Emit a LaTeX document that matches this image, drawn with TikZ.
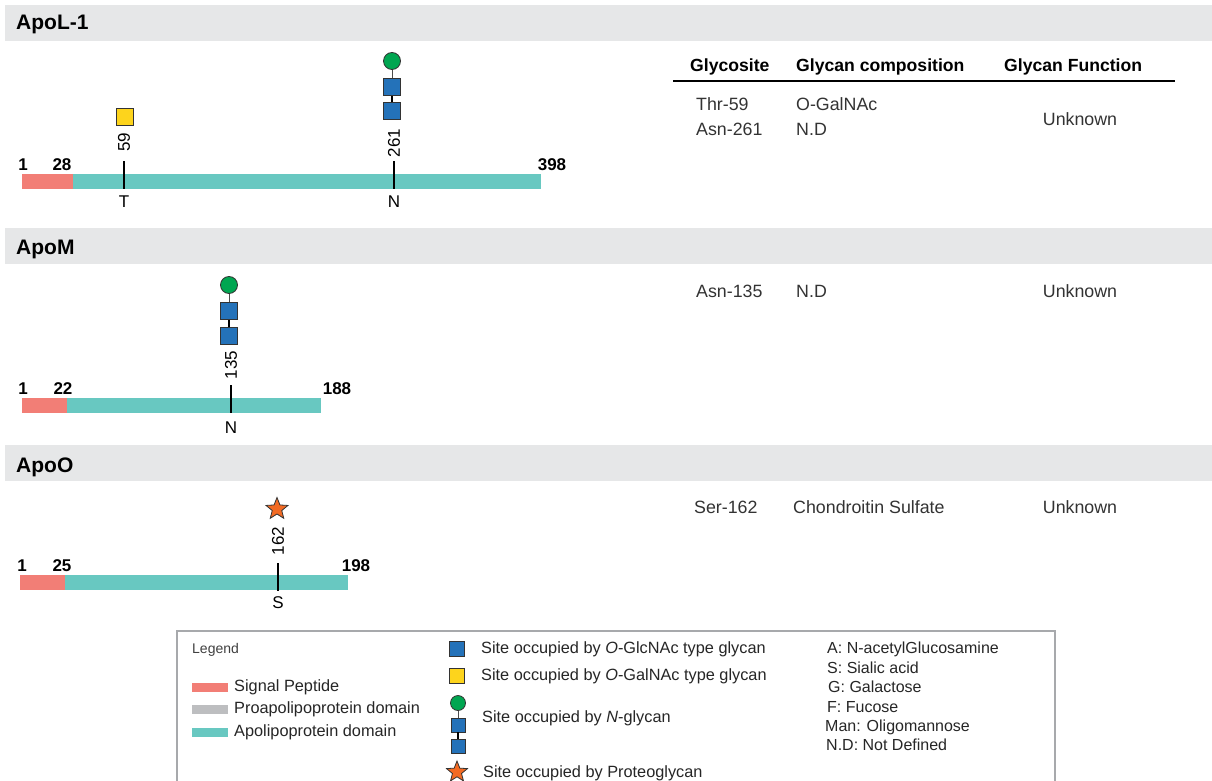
\documentclass[tikz,border=0pt]{standalone}
\usepackage{fontspec}
\setmainfont{Liberation Sans}
\usetikzlibrary{shapes.geometric}
\definecolor{bandgray}{HTML}{E6E7E8}
\definecolor{sigred}{HTML}{F27E76}
\definecolor{apoteal}{HTML}{68C8C1}
\definecolor{progray}{HTML}{BDBEC0}
\definecolor{glcblue}{HTML}{2472B9}
\definecolor{galyellow}{HTML}{FDD41C}
\definecolor{mangreen}{HTML}{00A651}
\definecolor{starorange}{HTML}{F26A23}
\definecolor{txtgray}{HTML}{333333}
\definecolor{boxgray}{HTML}{A7A9AC}
\newcommand\myfs[1]{\fontsize{#1}{#1}\selectfont}
\tikzset{
  band/.style={fill=bandgray, draw=none},
  ptitle/.style={anchor=base west, inner sep=0, font=\bfseries\myfs{21}},
  sigseg/.style={fill=sigred, draw=none},
  aposeg/.style={fill=apoteal, draw=none},
  sitetick/.style={line width=1.3pt, black},
  resnum/.style={anchor=base, inner sep=0, font=\bfseries\myfs{17}},
  poslab/.style={rotate=90, inner sep=0, font=\myfs{17}},
  aalab/.style={inner sep=0, font=\myfs{17}},
  glcsq/.style={rectangle, draw=black!80, line width=0.8pt, fill=glcblue, minimum size=16.5pt, inner sep=0},
  galsq/.style={rectangle, draw=black!80, line width=0.8pt, fill=galyellow, minimum size=17pt, inner sep=0},
  mancirc/.style={circle, draw=black!80, line width=0.8pt, fill=mangreen, minimum size=17pt, inner sep=0},
  pgstar/.style={star, star points=5, star point ratio=2.3, draw=black!80, line width=0.8pt, fill=starorange, minimum size=23pt, inner sep=0},
  thinlink/.style={draw=black!70, line width=0.8pt},
  thicklink/.style={draw=black, line width=1.6pt},
  thead/.style={anchor=base west, inner sep=0, font=\bfseries\myfs{17.6}},
  tcell/.style={anchor=west, inner sep=0, font=\myfs{17.8}, text=txtgray},
  legtext/.style={anchor=west, inner sep=0, font=\myfs{16.3}, text=black!85},
  keytext/.style={anchor=west, inner sep=0, font=\myfs{16}, text=black!85},
  swatch/.style={draw=none, minimum width=36pt, minimum height=9pt, inner sep=0},
}
\begin{document}
\begin{tikzpicture}[x=1pt,y=-1pt]
\useasboundingbox (0,0) rectangle (1212,781);
\fill[white] (0,0) rectangle (1212,781);

% ---------------- ApoL-1 ----------------
\fill[band] (5,5) rectangle (1212,41);
\node[ptitle] (t1) at (16,30) {ApoL-1};
\fill[sigseg] (22,174) rectangle (73,189);
\fill[aposeg] (73,174) rectangle (541,189);
\node[resnum] (a1s) at (23,170) {1};
\node[resnum] (a1b) at (62,170) {28};
\node[resnum] (a1e) at (552,170) {398};
\coordinate (a1t1top) at (124,161);
\coordinate (a1t1bot) at (124,189);
\draw[sitetick] (a1t1top) -- (a1t1bot);
\node[aalab] (a1aa1) at (124,202) {T};
\node[poslab] (a1p1) at (124,142) {59};
\node[galsq] (a1g1) at (125,117) {};
\coordinate (a1t2top) at (394,161);
\coordinate (a1t2bot) at (394,189);
\draw[sitetick] (a1t2top) -- (a1t2bot);
\node[aalab] (a1aa2) at (394,202) {N};
\node[poslab] (a1p2) at (394,143) {261};
\node[glcsq] (a1n1) at (392,111) {};
\node[glcsq] (a1n2) at (392,87) {};
\node[mancirc] (a1n3) at (392,61) {};
\draw[thicklink] (a1n1) -- (a1n2);
\draw[thinlink] (a1n2) -- (a1n3);

% table header
\node[thead] (h1) at (690,72) {Glycosite};
\node[thead] (h2) at (796,72) {Glycan composition};
\node[thead] (h3) at (1004,72) {Glycan Function};
\coordinate (rl) at (673,81);
\coordinate (rr) at (1175,81);
\draw[line width=1.8pt] (rl) -- (rr);
\node[tcell] (r1a) at (696,104) {Thr-59};
\node[tcell] (r1b) at (696,129) {Asn-261};
\node[tcell] (r1c) at (796,104) {O-GalNAc};
\node[tcell] (r1d) at (796,129) {N.D};
\node[tcell, anchor=center] (r1e) at (1080,119) {Unknown};

% ---------------- ApoM ----------------
\fill[band] (5,228) rectangle (1212,264);
\node[ptitle] (t2) at (16,254) {ApoM};
\fill[sigseg] (22,398) rectangle (67,413);
\fill[aposeg] (67,398) rectangle (321,413);
\node[resnum] (a2s) at (23,394) {1};
\node[resnum] (a2b) at (63,394) {22};
\node[resnum] (a2e) at (337,394) {188};
\coordinate (a2t1top) at (231,385);
\coordinate (a2t1bot) at (231,413);
\draw[sitetick] (a2t1top) -- (a2t1bot);
\node[aalab] (a2aa1) at (231,428) {N};
\node[poslab] (a2p1) at (231,365) {135};
\node[glcsq] (a2n1) at (229,336) {};
\node[glcsq] (a2n2) at (229,311) {};
\node[mancirc] (a2n3) at (229,285) {};
\draw[thicklink] (a2n1) -- (a2n2);
\draw[thinlink] (a2n2) -- (a2n3);
\node[tcell] (r2a) at (696,291) {Asn-135};
\node[tcell] (r2b) at (796,291) {N.D};
\node[tcell, anchor=center] (r2c) at (1080,291) {Unknown};

% ---------------- ApoO ----------------
\fill[band] (5,445) rectangle (1212,481);
\node[ptitle] (t3) at (16,472) {ApoO};
\fill[sigseg] (20,575) rectangle (65,590);
\fill[aposeg] (65,575) rectangle (348,590);
\node[resnum] (a3s) at (22,571) {1};
\node[resnum] (a3b) at (62,571) {25};
\node[resnum] (a3e) at (356,571) {198};
\coordinate (a3t1top) at (278,563);
\coordinate (a3t1bot) at (278,591);
\draw[sitetick] (a3t1top) -- (a3t1bot);
\node[aalab] (a3aa1) at (278,603) {S};
\node[poslab] (a3p1) at (278,541) {162};
\node[pgstar] (a3g1) at (277,509) {};
\node[tcell] (r3a) at (694,507) {Ser-162};
\node[tcell] (r3b) at (793,507) {Chondroitin Sulfate};
\node[tcell, anchor=center] (r3c) at (1080,507) {Unknown};

% ---------------- Legend ----------------
\draw[boxgray, line width=1.2pt] (177,782) -- (177,631) -- (1055,631) -- (1055,782);
\node[anchor=west, inner sep=0, font=\myfs{14}, text=black!75] (lg) at (192,650) {Legend};
\node[swatch, fill=sigred, anchor=west] (sw1) at (192,687) {};
\node[swatch, fill=progray, anchor=west] (sw2) at (192,709) {};
\node[swatch, fill=apoteal, anchor=west] (sw3) at (192,732) {};
\node[legtext] (sl1) at (234,687) {Signal Peptide};
\node[legtext] (sl2) at (234,709) {Proapolipoprotein domain};
\node[legtext] (sl3) at (234,732) {Apolipoprotein domain};

\node[glcsq, minimum size=15pt] (lk1) at (457,649) {};
\node[galsq, minimum size=15pt] (lk2) at (457,676) {};
\node[mancirc, minimum size=15pt] (lk3c) at (458,703) {};
\node[glcsq, minimum size=14pt] (lk3a) at (458,725) {};
\node[glcsq, minimum size=14pt] (lk3b) at (458,746) {};
\draw[thinlink] (lk3c) -- (lk3a);
\draw[thicklink] (lk3a) -- (lk3b);
\node[pgstar, minimum size=22pt] (lk4) at (457,772) {};
\node[legtext] (kl1) at (481,649) {Site occupied by \emph{O}-GlcNAc type glycan};
\node[legtext] (kl2) at (481,676) {Site occupied by \emph{O}-GalNAc type glycan};
\node[legtext] (kl3) at (482,718) {Site occupied by \emph{N}-glycan};
\node[legtext] (kl4) at (483,773) {Site occupied by Proteoglycan};

\node[keytext] (ab1) at (827,649) {A: N-acetylGlucosamine};
\node[keytext] (ab2) at (827,668) {S: Sialic acid};
\node[keytext] (ab3) at (828,687) {G: Galactose};
\node[keytext] (ab4) at (827,707) {F: Fucose};
\node[keytext] (ab5) at (825,727) {Man: Oligomannose};
\node[keytext] (ab6) at (826,745) {N.D: Not Defined};
\end{tikzpicture}
\end{document}
